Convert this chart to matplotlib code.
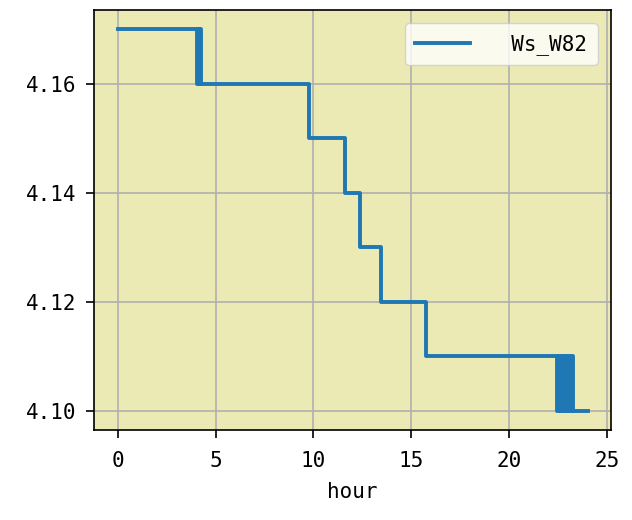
import numpy as np
import matplotlib
matplotlib.use("Agg")
import matplotlib.pyplot as plt

plt.rcParams['font.family'] = ['DejaVu Sans Mono', 'DejaVu Sans']
plt.rcParams['axes.unicode_minus'] = False

# step change points (hour, voltage)
hours = [0.0, 4.05, 4.10, 4.15, 4.20, 4.25, 9.78, 11.62, 12.38, 13.45, 15.75,
         22.45, 22.55, 22.62, 22.70, 22.78, 22.86, 22.94, 23.02, 23.10, 23.18, 23.26, 24.0]
values = [4.17, 4.16, 4.17, 4.16, 4.17, 4.16, 4.15, 4.14, 4.13, 4.12, 4.11,
          4.10, 4.11, 4.10, 4.11, 4.10, 4.11, 4.10, 4.11, 4.10, 4.11, 4.10, 4.10]
label = "  Ws_W82"

fig, ax = plt.subplots(figsize=(6.32, 5.2), dpi=100)
ax.set_facecolor('#ECEAB4')
ax.step(hours, values, where='post', color='#1f77b4', linewidth=2.8, label=label)
ax.set_xticks([0, 5, 10, 15, 20, 25])
ax.set_yticks([4.10, 4.12, 4.14, 4.16])
ax.set_yticklabels(['4.10', '4.12', '4.14', '4.16'])
ax.grid(True, color='#b0b0b0', linewidth=1.2)
ax.set_axisbelow(True)
ax.tick_params(labelsize=15, length=6, width=1.2)
ax.tick_params(axis='x', pad=9)
ax.tick_params(axis='y', pad=7)
for s in ax.spines.values():
    s.set_linewidth(1.2)
ax.set_xlabel('hour', fontsize=15, labelpad=8)
ax.legend(loc='upper right', fontsize=15, handlelength=2.6, borderaxespad=0.65,
          borderpad=0.5)
plt.subplots_adjust(left=0.149, right=0.967, top=0.981, bottom=0.173)
plt.savefig('out.png', dpi=100)
